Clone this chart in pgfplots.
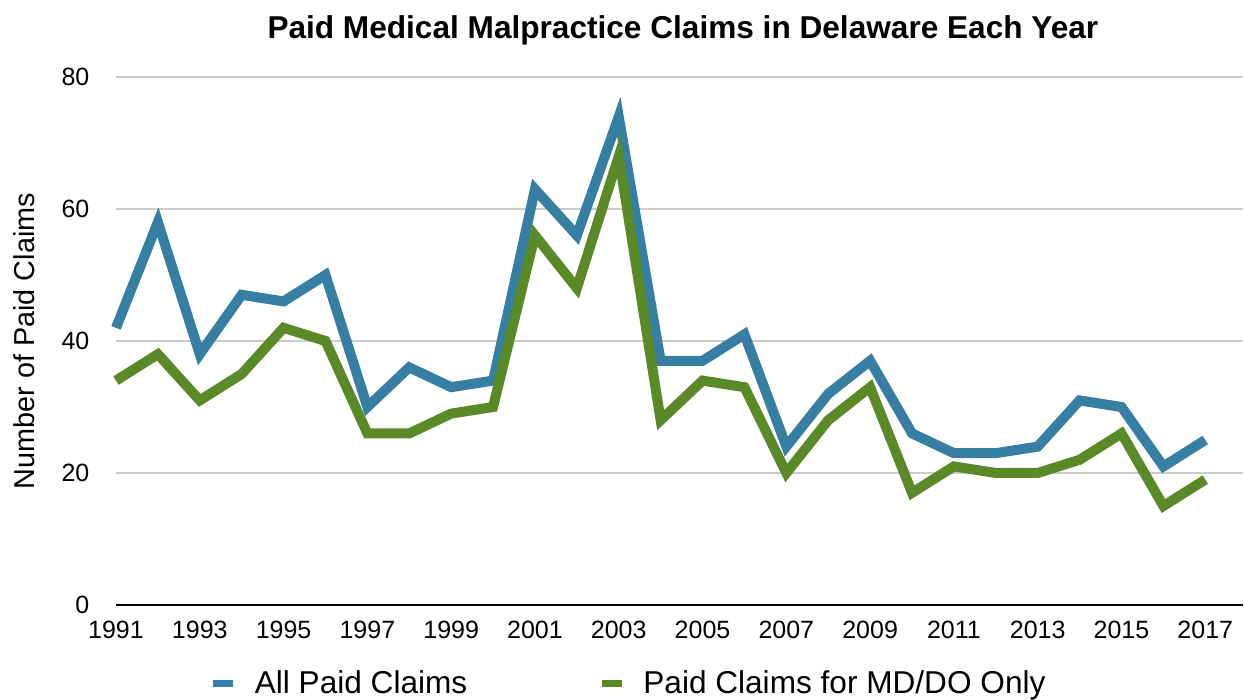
\documentclass[border=0pt]{standalone}
\usepackage{fontspec}
\setmainfont{Liberation Sans}
\usepackage{pgfplots}
\pgfplotsset{compat=1.18}
\definecolor{cblue}{HTML}{367EA2}
\definecolor{cgreen}{HTML}{5A8A28}
\definecolor{gridgray}{HTML}{CCCCCC}
\begin{document}
\begin{tikzpicture}
\begin{axis}[
 at={(0,0)}, anchor=south west,
 scale only axis, width=563.5pt, height=264pt,
 xmin=1991, xmax=2017.9, ymin=0, ymax=80,
 enlargelimits=false,
 clip=false,
 axis line style={draw=none},
 major tick length=0pt,
 xtick={1991,1993,1995,1997,1999,2001,2003,2005,2007,2009,2011,2013,2015,2017},
 xticklabels={1991,1993,1995,1997,1999,2001,2003,2005,2007,2009,2011,2013,2015,2017},
 ytick={0,20,40,60,80},
 ymajorgrids, grid style={gridgray, line width=0.8pt},
 extra y ticks={0}, extra y tick labels={},
 extra y tick style={grid style={black, line width=1.2pt}},
 tick label style={font=\fontsize{12.5}{15}\selectfont},
 /pgf/number format/assume math mode=true,
 yticklabel style={xshift=-9.8pt},
 xticklabel style={yshift=-4.5pt},
 ylabel={Number of Paid Claims},
 ylabel style={at={(axis description cs:-0.0816,0.5)}, anchor=center, font=\fontsize{14.4}{17}\selectfont},
 title={Paid Medical Malpractice Claims in Delaware Each Year},
 title style={at={(axis description cs:0.503,1.051)}, anchor=base, font=\fontsize{15.8}{19}\selectfont\bfseries},
 legend columns=2, legend cell align=left,
 legend style={at={(axis description cs:0.0833,-0.1496)}, anchor=west, draw=none, fill=none,
   inner sep=0pt, outer sep=0pt, font=\fontsize{15.8}{19}\selectfont,
   nodes={inner sep=0pt}, column sep=0pt,
   /tikz/every odd column/.append style={column sep=9pt},
   /tikz/every even column/.append style={column sep=65.5pt}},
 legend image code/.code={\draw[line width=3.5pt] (0pt,0pt) -- (10pt,0pt);},
 every axis plot/.append style={line width=5pt, line join=miter, miter limit=10},
]
\addplot[cblue] coordinates {
(1991,42) (1992,58) (1993,38) (1994,47) (1995,46) (1996,50) (1997,30) (1998,36) (1999,33)
(2000,34) (2001,63) (2002,56) (2003,74) (2004,37) (2005,37) (2006,41) (2007,24) (2008,32)
(2009,37) (2010,26) (2011,23) (2012,23) (2013,24) (2014,31) (2015,30) (2016,21) (2017,25)};
\addlegendentry{All Paid Claims}
\addplot[cgreen] coordinates {
(1991,34) (1992,38) (1993,31) (1994,35) (1995,42) (1996,40) (1997,26) (1998,26) (1999,29)
(2000,30) (2001,56) (2002,48) (2003,68) (2004,28) (2005,34) (2006,33) (2007,20) (2008,28)
(2009,33) (2010,17) (2011,21) (2012,20) (2013,20) (2014,22) (2015,26) (2016,15) (2017,19)};
\addlegendentry{Paid Claims for MD/DO Only}
\end{axis}
\pgfresetboundingbox
\path[use as bounding box] (-58pt,-47.5pt) rectangle (564pt,302.5pt);
\end{tikzpicture}
\end{document}
